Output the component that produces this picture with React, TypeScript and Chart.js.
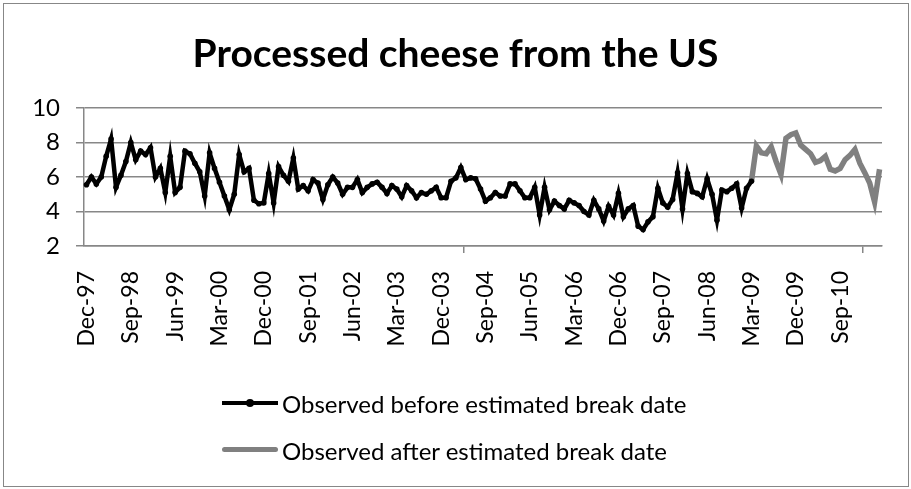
import React, { useEffect, useRef } from "react";
import { Chart, registerables } from "chart.js";

Chart.register(...registerables);

const TITLE = "Processed cheese from the US";
const SERIES_NAMES = [
  "Observed before estimated break date",
  "Observed after estimated break date",
];
const MONTH_NAMES = ["Jan", "Feb", "Mar", "Apr", "May", "Jun", "Jul", "Aug", "Sep", "Oct", "Nov", "Dec"];
const START_YEAR = 1997;
const START_MONTH = 11; // December
const N_MONTHS = 162;
const TICK_EVERY = 9;
const Y_MIN = 2;
const Y_MAX = 10;
const Y_STEP = 2;

// Observed before estimated break date: Dec-97 .. Mar-09
const BEFORE = [
  5.55, 6.0, 5.6, 6.0, 7.2, 8.2, 5.4, 6.1, 6.9, 8.0,
  7.0, 7.5, 7.3, 7.7, 6.0, 6.5, 5.1, 7.2, 5.1, 5.4,
  7.5, 7.35, 6.8, 6.3, 4.9, 7.4, 6.5, 5.7, 4.9, 4.1,
  5.0, 7.3, 6.3, 6.5, 4.65, 4.45, 4.5, 6.2, 4.5, 6.6,
  6.1, 5.75, 7.1, 5.3, 5.5, 5.2, 5.85, 5.65, 4.7, 5.55,
  6.0, 5.65, 5.0, 5.4, 5.4, 5.85, 5.1, 5.4, 5.6, 5.7,
  5.4, 5.05, 5.5, 5.3, 4.85, 5.5, 5.2, 4.8, 5.1, 5.0,
  5.2, 5.4, 4.8, 4.8, 5.75, 5.95, 6.55, 5.85, 5.95, 5.9,
  5.3, 4.6, 4.8, 5.1, 4.9, 4.9, 5.6, 5.6, 5.2, 4.8,
  4.8, 5.4, 3.8, 5.4, 4.1, 4.6, 4.35, 4.15, 4.65, 4.5,
  4.35, 4.0, 3.8, 4.65, 4.15, 3.45, 4.3, 3.8, 5.05, 3.7,
  4.15, 4.35, 3.15, 2.95, 3.4, 3.7, 5.35, 4.5, 4.25, 4.7,
  6.25, 4.15, 6.2, 5.15, 5.05, 4.85, 5.9, 5.0, 3.5, 5.25,
  5.15, 5.35, 5.6, 4.2, 5.35, 5.75,
];

// Observed after estimated break date: Apr-09 .. May-11
const AFTER = [
  7.8, 7.4, 7.35, 7.75, 6.9, 6.15, 8.25, 8.45, 8.55, 7.85,
  7.6, 7.35, 6.85, 6.95, 7.2, 6.45, 6.35, 6.5, 7.0, 7.25,
  7.6, 6.8, 6.25, 5.65, 4.55, 6.45,
];

const FONT = "Lato, 'Open Sans', sans-serif";
const AXIS_GREY = "#878787";

function buildCategories(): string[] {
  const out: string[] = [];
  for (let i = 0; i < N_MONTHS; i++) {
    const m = (START_MONTH + i) % 12;
    const y = START_YEAR + Math.floor((START_MONTH + i) / 12);
    out.push(MONTH_NAMES[m] + "-" + String(y % 100).padStart(2, "0"));
  }
  return out;
}

export default function App() {
  const ref = useRef<HTMLCanvasElement | null>(null);

  useEffect(() => {
    if (!ref.current) return;
    const categories = buildCategories();
    const nb = BEFORE.length;
    const beforeData = categories.map((_, i) => (i < nb ? BEFORE[i] : null));
    const afterData = categories.map((_, i) =>
      i === nb - 1 ? BEFORE[i] : i >= nb ? AFTER[i - nb] ?? null : null
    );

    const tickVisible = (ctx: any) =>
      ctx.index === undefined || ctx.index % TICK_EVERY === 0 ? AXIS_GREY : "rgba(0,0,0,0)";

    const chart = new Chart(ref.current, {
      type: "line",
      data: {
        labels: categories,
        datasets: [
          {
            label: SERIES_NAMES[0],
            data: beforeData,
            borderColor: "#000000",
            backgroundColor: "#000000",
            borderWidth: 4.5,
            pointRadius: 2.8,
            pointBorderWidth: 0,
            pointBackgroundColor: "#000000",
            tension: 0,
            spanGaps: false,
          },
          {
            label: SERIES_NAMES[1],
            data: afterData,
            borderColor: "#808080",
            backgroundColor: "#808080",
            borderWidth: 5.5,
            pointRadius: 0,
            tension: 0,
            spanGaps: false,
          },
        ],
      },
      options: {
        responsive: false,
        animation: false,
        events: [],
        layout: { padding: { top: 108, left: 0, right: 29, bottom: 489 - 246 - 120 } },
        plugins: {
          legend: { display: false },
          title: { display: false },
          tooltip: { enabled: false },
        },
        scales: {
          x: {
            type: "category",
            offset: true,
            grid: {
              offset: true,
              drawOnChartArea: false,
              drawTicks: true,
              tickLength: 7,
              color: tickVisible,
              tickColor: tickVisible,
              lineWidth: 1.5,
            },
            border: { display: true, color: AXIS_GREY, width: 1.5 },
            ticks: {
              autoSkip: false,
              minRotation: 90,
              maxRotation: 90,
              padding: 18,
              color: "#000000",
              font: { family: FONT, size: 23 },
              callback: (_v: any, i: number) => (i % TICK_EVERY === 0 ? categories[i] : null),
            },
            afterFit: (s: any) => {
              s.height = 120;
            },
          },
          y: {
            min: Y_MIN,
            max: Y_MAX,
            grid: { color: AXIS_GREY, lineWidth: 1.5, tickLength: 8, tickColor: AXIS_GREY },
            border: { display: true, color: AXIS_GREY, width: 1.5 },
            ticks: {
              stepSize: Y_STEP,
              padding: 16,
              color: "#000000",
              font: { family: FONT, size: 24 },
            },
            afterFit: (s: any) => {
              s.width = 84;
            },
          },
        },
      },
    });
    return () => chart.destroy();
  }, []);

  const legendRow = (top: number, sample: React.ReactNode, text: string) => (
    <div
      style={{
        position: "absolute",
        left: 222,
        top: top - 16,
        height: 32,
        display: "flex",
        alignItems: "center",
      }}
    >
      <div style={{ width: 56, height: 32, position: "relative" }}>{sample}</div>
      <span style={{ fontFamily: FONT, fontSize: 24, color: "#000", marginLeft: 4, whiteSpace: "nowrap" }}>
        {text}
      </span>
    </div>
  );

  return (
    <div style={{ position: "fixed", left: 0, top: 0, width: 911, height: 489, background: "#fff" }}>
      <canvas ref={ref} width={911} height={489} style={{ position: "absolute", left: 0, top: 0 }} />
      <div
        style={{
          position: "absolute",
          left: 3,
          top: 3,
          width: 904,
          height: 482,
          border: "1px solid #878787",
          pointerEvents: "none",
        }}
      />
      <div
        style={{
          position: "absolute",
          left: 0,
          top: 28,
          width: 911,
          textAlign: "center",
          fontFamily: FONT,
          fontWeight: 700,
          fontSize: 39,
          lineHeight: "48px",
          color: "#000",
        }}
      >
        {TITLE}
      </div>
      {legendRow(
        403,
        <>
          <div style={{ position: "absolute", left: 0, top: 14, width: 56, height: 4, background: "#000" }} />
          <div
            style={{ position: "absolute", left: 24, top: 12, width: 8, height: 8, borderRadius: 4, background: "#000" }}
          />
        </>,
        SERIES_NAMES[0]
      )}
      {legendRow(
        450,
        <div style={{ position: "absolute", left: 0, top: 13, width: 56, height: 5, borderRadius: 2.5, background: "#808080" }} />,
        SERIES_NAMES[1]
      )}
    </div>
  );
}
